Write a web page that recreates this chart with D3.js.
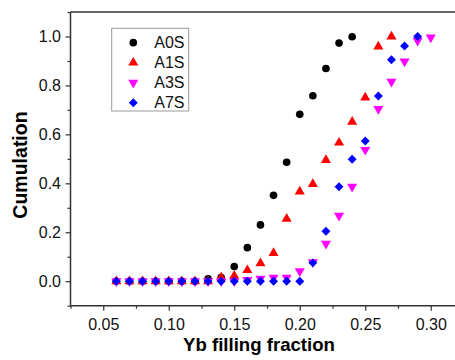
<!DOCTYPE html>
<html>
<head>
<meta charset="utf-8">
<script src="https://cdn.jsdelivr.net/npm/d3@7"></script>
<style>
  body { margin: 0; background: #fff; }
  svg { display: block; font-family: "Liberation Sans", Arial, sans-serif; }
</style>
</head>
<body>
<svg id="chart"></svg>
<script>
// Yb filling fraction (x) for every series
const fractions = [0.06, 0.07, 0.08, 0.09, 0.10, 0.11, 0.12, 0.13, 0.14, 0.15, 0.16, 0.17, 0.18,
  0.19, 0.20, 0.21, 0.22, 0.23, 0.24, 0.25, 0.26, 0.27, 0.28, 0.29, 0.30];

const a0s = [0, 0, 0, 0, 0, 0, 0, 0.01, 0.015, 0.06, 0.137, 0.23, 0.351, 0.486, 0.682, 0.758, 0.869,
  0.973, 0.999];
const a1s = [0, 0, 0, 0, 0, 0, 0, 0, 0.015, 0.022, 0.045, 0.073, 0.115, 0.255, 0.366, 0.397, 0.495,
  0.566, 0.651, 0.75, 0.959, 1.0];
const a3s = [0, 0, 0, 0, 0, 0, 0, 0, 0, 0, 0.005, 0.01, 0.015, 0.015, 0.041, 0.078, 0.153, 0.268,
  0.386, 0.537, 0.704, 0.815, 0.898, 0.983, 0.996];
const a7s = [0, 0, 0, 0, 0, 0, 0, 0, 0, 0, 0, 0, 0, 0, 0, 0.075, 0.204, 0.386, 0.498, 0.573, 0.757,
  0.905, 0.961, 1.0];

const seriesNames = ['A0S', 'A1S', 'A3S', 'A7S'];
const seriesValues = [a0s, a1s, a3s, a7s];

const xTicks = [0.05, 0.10, 0.15, 0.20, 0.25, 0.30];
const yTicks = [0.0, 0.2, 0.4, 0.6, 0.8, 1.0];

const width = 455;
const height = 360;
const plotLeft = 70.5, plotTop = 12, plotBottom = 305.7;

const svg = d3.select('#chart')
  .attr('width', width)
  .attr('height', height);

const x = d3.scaleLinear().domain([0.025, 0.325]).range([plotLeft, plotLeft + 0.3 * 1310]);
const y = d3.scaleLinear().domain([-0.1, 1.1]).range([plotBottom, plotTop]);

const colors = ['#000000', '#ff0000', '#ff00ff', '#0000ff'];
const symbols = [
  d3.symbol().type(d3.symbolCircle).size(46),
  d3.symbol().type(d3.symbolTriangle).size(44),
  d3.symbol().type(d3.symbolTriangle).size(44),
  d3.symbol().type(d3.symbolSquare).size(40)
];
const rotations = [0, 0, 180, 45];

// frame top line (right side runs off the picture)
svg.append('line')
  .attr('x1', plotLeft).attr('x2', width)
  .attr('y1', plotTop).attr('y2', plotTop)
  .attr('stroke', '#333').attr('stroke-width', 1.5);

// minor ticks
const xMinor = d3.range(0.025, 0.33, 0.05).map(v => +v.toFixed(3));
const yMinor = d3.range(-0.1, 1.11, 0.2).map(v => +v.toFixed(2));

const xAxis = svg.append('g')
  .attr('transform', `translate(0,${plotBottom})`)
  .call(d3.axisBottom(x).tickValues(xTicks).tickFormat(d3.format('.2f')).tickSize(5).tickPadding(7.5));
xAxis.select('.domain').attr('d', `M${plotLeft},0H${width}`);
svg.append('g')
  .attr('transform', `translate(0,${plotBottom})`)
  .call(d3.axisBottom(x).tickValues(xMinor).tickFormat('').tickSize(3))
  .select('.domain').remove();

const yAxis = svg.append('g')
  .attr('transform', `translate(${plotLeft},0)`)
  .call(d3.axisLeft(y).tickValues(yTicks).tickFormat(d3.format('.1f')).tickSize(5).tickPadding(4.5));
yAxis.select('.domain').attr('d', `M0,${plotTop}V${plotBottom}`);
svg.append('g')
  .attr('transform', `translate(${plotLeft},0)`)
  .call(d3.axisLeft(y).tickValues(yMinor).tickFormat('').tickSize(3))
  .select('.domain').remove();

svg.selectAll('.domain').attr('stroke', '#333').attr('stroke-width', 1.5);
svg.selectAll('.tick line').attr('stroke', '#333').attr('stroke-width', 1.2);
svg.selectAll('.tick text')
  .attr('fill', '#111')
  .style('font-size', '16px')
  .style('font-family', '"Liberation Sans", Arial, sans-serif');

// points
seriesValues.forEach((vals, i) => {
  svg.append('g')
    .selectAll('path')
    .data(vals.map((v, j) => [fractions[j], v]))
    .enter()
    .append('path')
    .attr('d', symbols[i])
    .attr('transform', d => `translate(${x(d[0])},${y(d[1])}) rotate(${rotations[i]})`)
    .attr('fill', colors[i]);
});

// legend
const legend = svg.append('g');
legend.append('rect')
  .attr('x', 111.7).attr('y', 28.3)
  .attr('width', 77).attr('height', 82.7)
  .attr('fill', '#fff')
  .attr('stroke', '#999').attr('stroke-width', 1);
seriesNames.forEach((name, i) => {
  const cy = 42.7 + i * 20;
  legend.append('path')
    .attr('d', symbols[i])
    .attr('transform', `translate(133.3,${cy}) rotate(${rotations[i]})`)
    .attr('fill', colors[i]);
  legend.append('text')
    .attr('x', 154.3).attr('y', cy + 5.5)
    .style('font-size', '16px')
    .attr('fill', '#111')
    .text(name);
});

// axis titles
svg.append('text')
  .attr('x', 259).attr('y', 350.5)
  .attr('text-anchor', 'middle')
  .style('font-size', '18.6px')
  .style('font-weight', 'bold')
  .text('Yb filling fraction');

svg.append('text')
  .attr('transform', 'translate(27,165) rotate(-90)')
  .attr('text-anchor', 'middle')
  .style('font-size', '19.5px')
  .style('font-weight', 'bold')
  .text('Cumulation');
</script>
</body>
</html>
